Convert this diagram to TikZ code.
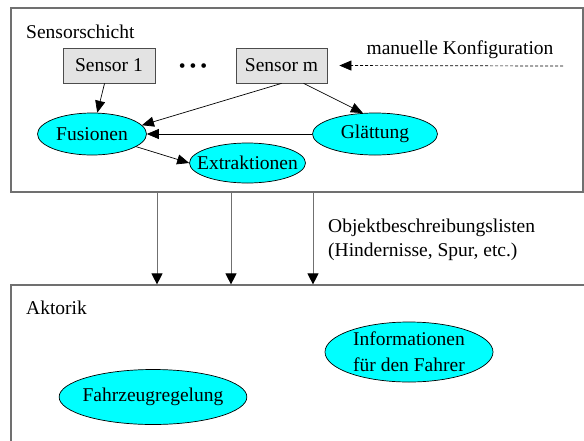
\documentclass[tikz,border=0pt]{standalone}
\usepackage{fontspec}
\setmainfont{Liberation Serif}
\usetikzlibrary{arrows.meta,shapes.geometric}
\definecolor{framegray}{HTML}{707070}
\definecolor{sensorfill}{HTML}{E3E3E3}
\definecolor{taskfill}{RGB}{0,255,255}
\tikzset{
  every node/.style={font=\fontsize{19.5}{23}\selectfont, inner sep=0pt},
  layer/.style={draw=framegray, line width=1.2pt, rectangle},
  sensorbox/.style={draw=black!70, fill=sensorfill, line width=0.8pt, rectangle},
  task/.style={draw=black, fill=taskfill, line width=0.7pt, ellipse},
  flow/.style={-{Triangle[length=12pt,width=10pt]}, line width=0.7pt},
  feed/.style={-{Triangle[length=11pt,width=11pt,color=black]}, draw=framegray, line width=1pt},
  config/.style={-{Triangle[length=12pt,width=10pt]}, line width=0.7pt, dash pattern=on 3pt off 2pt}
}
\begin{document}
\begin{tikzpicture}[x=1pt,y=-1pt]
  \useasboundingbox[fill=white] (0,0) rectangle (584,440);

  % the two layers
  \node[layer, minimum width=572, minimum height=184] (top) at (297,100) {};
  \node[layer, minimum width=590, minimum height=180] (bot) at (306,375) {};
  \node[anchor=west] (ttl) at (26,32) {Sensorschicht};
  \node[anchor=west] (atl) at (26,308) {Aktorik};

  % sensors
  \node[sensorbox, minimum width=92, minimum height=35] (s1) at (109,65.5) {Sensor 1};
  \node (dots) at (193,68) {\textbullet\hspace{4pt}\textbullet\hspace{4pt}\textbullet};
  \node[sensorbox, minimum width=91, minimum height=35] (sm) at (281.5,65.5) {Sensor m};
  \node (cfgtxt) at (460,50) {manuelle Konfiguration};
  \coordinate (cfg) at (563,66);

  % processing steps
  \node[task, minimum width=109, minimum height=42] (fus) at (92,134) {Fusionen};
  \node[task, minimum width=125, minimum height=42] (gl) at (375,134) {Glättung};
  \node[task, inner xsep=-10.5pt, inner ysep=3pt, minimum width=116, minimum height=40] (ext) at (247.5,163) {Extraktionen};

  % actuator tasks
  \node[task, inner xsep=-4pt, minimum width=176, minimum height=55] (fzr) at (153,397) {Fahrzeugregelung};
  \node[task, inner xsep=2pt, inner ysep=-3pt, minimum width=168, minimum height=60, align=center] (inf) at (409,352)
    {Informationen\\[3pt]für den Fahrer};

  % connections inside the sensor layer
  \draw[flow] (s1) -- (fus);
  \draw[flow] (sm.south) -- (fus.10);
  \draw[flow] (sm.-39) -- (gl.120);
  \draw[flow] (gl.west) -- (fus.east);
  \draw[flow] (fus.-16) -- (ext.west);
  \draw[config, shorten >=12pt] (cfg) -- (sm.east);

  % object lists passed down to the actuators
  \coordinate (c1) at (157,0);
  \coordinate (c2) at (231,0);
  \coordinate (c3) at (313,0);
  \draw[feed] (top.south -| c1) -- (bot.north -| c1);
  \draw[feed] (top.south -| c2) -- (bot.north -| c2);
  \draw[feed] (top.south -| c3) -- (bot.north -| c3);
  \node[anchor=west, align=left] (lists) at (328,239.5)
    {Objektbeschreibungslisten\\[1pt](Hindernisse, Spur, etc.)};
\end{tikzpicture}
\end{document}
